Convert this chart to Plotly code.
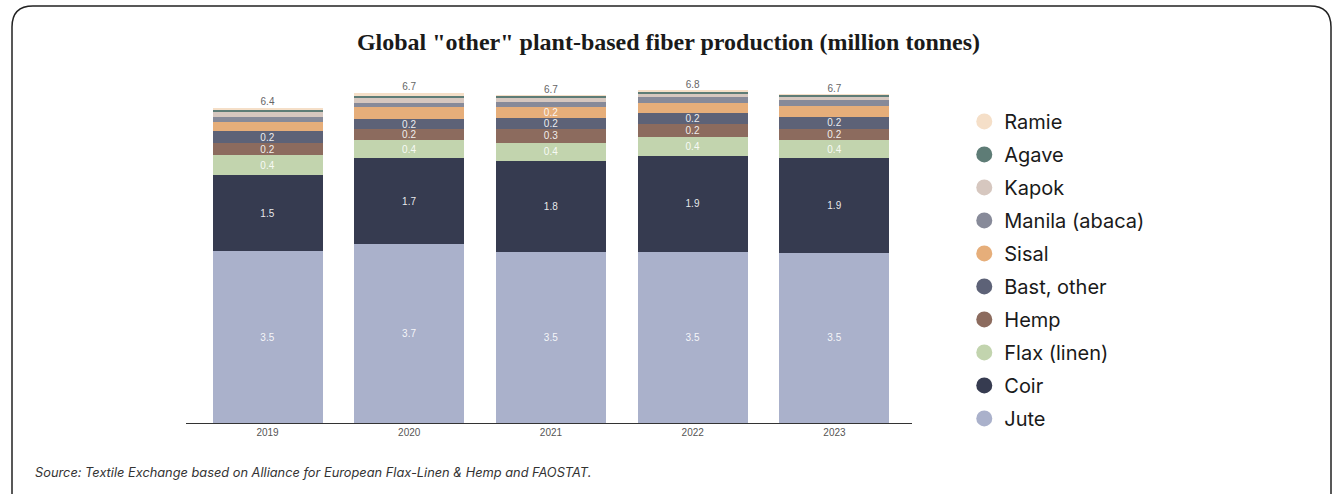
import plotly.graph_objects as go

years = ["2019", "2020", "2021", "2022", "2023"]
series_names = ["Jute", "Coir", "Flax (linen)", "Hemp", "Bast, other", "Sisal",
                "Manila (abaca)", "Kapok", "Agave", "Ramie"]
jute = [3.51, 3.66, 3.49, 3.49, 3.47]
coir = [1.55, 1.74, 1.86, 1.96, 1.93]
flax = [0.41, 0.37, 0.37, 0.39, 0.37]
hemp = [0.24, 0.22, 0.28, 0.26, 0.24]
bast = [0.24, 0.22, 0.23, 0.22, 0.24]
sisal = [0.20, 0.23, 0.22, 0.22, 0.22]
manila = [0.10, 0.10, 0.10, 0.12, 0.12]
kapok = [0.10, 0.10, 0.09, 0.06, 0.07]
agave = [0.035, 0.035, 0.035, 0.055, 0.035]
ramie = [0.05, 0.07, 0.015, 0.015, 0.01]

jute_lbl = ["3.5", "3.7", "3.5", "3.5", "3.5"]
coir_lbl = ["1.5", "1.7", "1.8", "1.9", "1.9"]
flax_lbl = ["0.4", "0.4", "0.4", "0.4", "0.4"]
hemp_lbl = ["0.2", "0.2", "0.3", "0.2", "0.2"]
bast_lbl = ["0.2", "0.2", "0.2", "0.2", "0.2"]
sisal_lbl = ["", "", "0.2", "", ""]
total_lbl = ["6.4", "6.7", "6.7", "6.8", "6.7"]

colors = {
    "Jute": "#aab1cb", "Coir": "#363b50", "Flax (linen)": "#c2d4ae",
    "Hemp": "#8c6b5e", "Bast, other": "#5d6277", "Sisal": "#e6ae7a",
    "Manila (abaca)": "#878a99", "Kapok": "#d6c7bf", "Agave": "#5e7c76",
    "Ramie": "#f5dfc8",
}
values = [jute, coir, flax, hemp, bast, sisal, manila, kapok, agave, ramie]
labels = [jute_lbl, coir_lbl, flax_lbl, hemp_lbl, bast_lbl, sisal_lbl,
          None, None, None, None]

W, H = 1337, 494
L, R, T, B = 186, 425, 80, 71
PW, PH = W - L - R, H - T - B


def px(x):
    return (x - L) / PW


def py(y):
    return (H - B - y) / PH


fig = go.Figure()
for name, vals, lbl in zip(series_names, values, labels):
    fig.add_trace(go.Bar(
        x=years, y=vals, name=name, marker_color=colors[name],
        marker_line_width=0, showlegend=False,
        text=lbl, textposition="inside", insidetextanchor="middle",
        textangle=0, textfont=dict(family="Liberation Sans", size=10,
                                   color="rgba(255,255,255,0.9)"),
        hoverinfo="skip",
    ))

totals = [sum(v[i] for v in values) for i in range(len(years))]
fig.add_trace(go.Scatter(
    x=years, y=totals, mode="text", text=total_lbl,
    textposition="top center", showlegend=False,
    textfont=dict(family="Liberation Sans", size=10, color="#666666"),
    hoverinfo="skip",
))

for name in reversed(series_names):
    fig.add_trace(go.Scatter(
        x=[None], y=[None], mode="markers", name=name,
        marker=dict(symbol="circle", size=17, color=colors[name]),
        legendgroup=name,
    ))

fig.update_layout(
    width=W, height=H, barmode="stack", bargap=0.224,
    plot_bgcolor="white", paper_bgcolor="white",
    margin=dict(l=L, r=R, t=T, b=B),
    uniformtext=dict(minsize=10, mode="show"),
    title=dict(text="Global \"other\" plant-based fiber production (million tonnes)",
               x=0.5, xanchor="center", y=1 - 42 / H, yanchor="middle",
               font=dict(family="Liberation Serif", size=24, color="#1a1a1a",
                         weight="bold")),
    xaxis=dict(showline=True, linecolor="#333333", linewidth=1,
               ticks="", tickfont=dict(family="Liberation Sans", size=10, color="#555555"),
               range=[-0.575, 4.547], showgrid=False, fixedrange=True),
    yaxis=dict(visible=False, range=[0, 7], showgrid=False, fixedrange=True),
    legend=dict(x=1.0720, y=0.936, xanchor="left", yanchor="top",
                traceorder="grouped", tracegroupgap=4, maxheight=600,
                font=dict(family="Inter", size=20, color="#1a1a1a"),
                itemwidth=30, bgcolor="rgba(0,0,0,0)"),
    showlegend=True,
)

fig.add_annotation(
    text="<i>Source: Textile Exchange based on Alliance for European Flax-Linen &amp; Hemp and FAOSTAT.</i>",
    xref="paper", yref="paper", x=px(33), y=py(472), xanchor="left", yanchor="middle",
    showarrow=False, font=dict(family="Inter", size=12.8, color="#333333"),
)

x0, x1, y0, y1, r = 12, 1331, 6, 510, 21
path = (f"M {px(x0)} {py(y1)} L {px(x0)} {py(y0 + r)} "
        f"Q {px(x0)} {py(y0)} {px(x0 + r)} {py(y0)} "
        f"L {px(x1 - r)} {py(y0)} Q {px(x1)} {py(y0)} {px(x1)} {py(y0 + r)} "
        f"L {px(x1)} {py(y1)}")
fig.add_shape(type="path", xref="paper", yref="paper", layer="below",
              path=path, line=dict(color="#222222", width=1.5))

fig.write_html("out.html", config={"displayModeBar": False},
               post_script="document.body.style.margin='0';")
